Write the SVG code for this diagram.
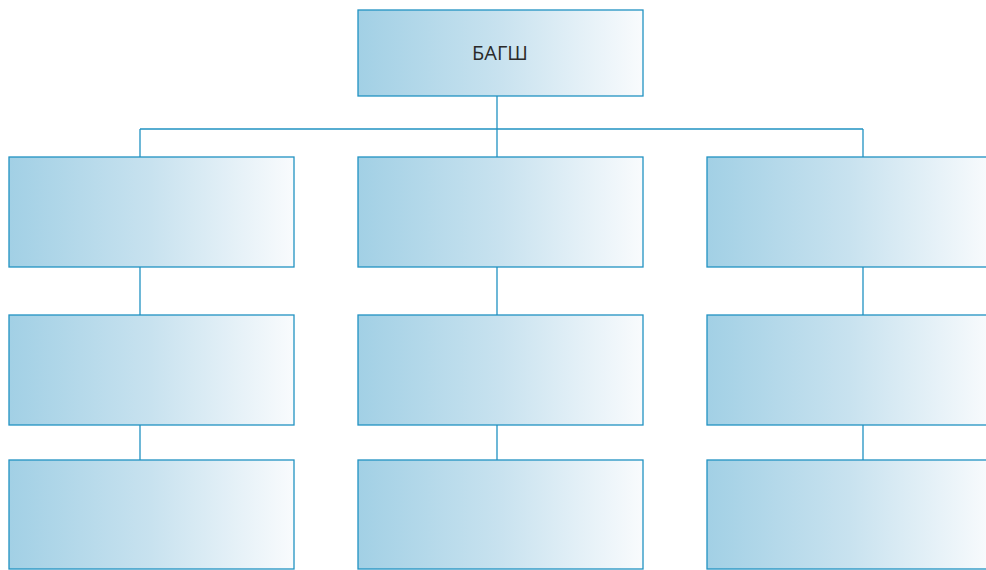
<svg xmlns="http://www.w3.org/2000/svg" width="986" height="570" viewBox="0 0 986 570">
<defs>
<linearGradient id="g" x1="0" y1="0" x2="1" y2="0">
<stop offset="0" stop-color="#a2d0e5"/>
<stop offset="0.5" stop-color="#c8e2ef"/>
<stop offset="1" stop-color="#f9fbfd"/>
</linearGradient>
</defs>
<style>
.box{fill:url(#g);stroke:#2192c2;stroke-width:1.3}
.ln{stroke:#2192c2;stroke-width:1.3;fill:none}
.t{font-family:"Open Sans","Noto Sans",sans-serif;font-size:20px;fill:#2a2a2a;text-anchor:middle}
</style>
<rect width="986" height="570" fill="#ffffff"/>
<g id="connectors">
<path class="ln" d="M497 96V129M140 129H863M140 129V157M497 129V157M863 129V157"/>
<path class="ln" d="M140 267V315M497 267V315M863 267V315"/>
<path class="ln" d="M140 425V460M497 425V460M863 425V460"/>
</g>
<g id="root"><rect class="box" x="358" y="10" width="285" height="86"/><text class="t" x="500" y="60">БАГШ</text></g>
<g id="n11"><rect class="box" x="9" y="157" width="285" height="110"/></g>
<g id="n12"><rect class="box" x="358" y="157" width="285" height="110"/></g>
<g id="n13"><rect class="box" x="707" y="157" width="285" height="110"/></g>
<g id="n21"><rect class="box" x="9" y="315" width="285" height="110"/></g>
<g id="n22"><rect class="box" x="358" y="315" width="285" height="110"/></g>
<g id="n23"><rect class="box" x="707" y="315" width="285" height="110"/></g>
<g id="n31"><rect class="box" x="9" y="460" width="285" height="109"/></g>
<g id="n32"><rect class="box" x="358" y="460" width="285" height="109"/></g>
<g id="n33"><rect class="box" x="707" y="460" width="285" height="109"/></g>
</svg>
